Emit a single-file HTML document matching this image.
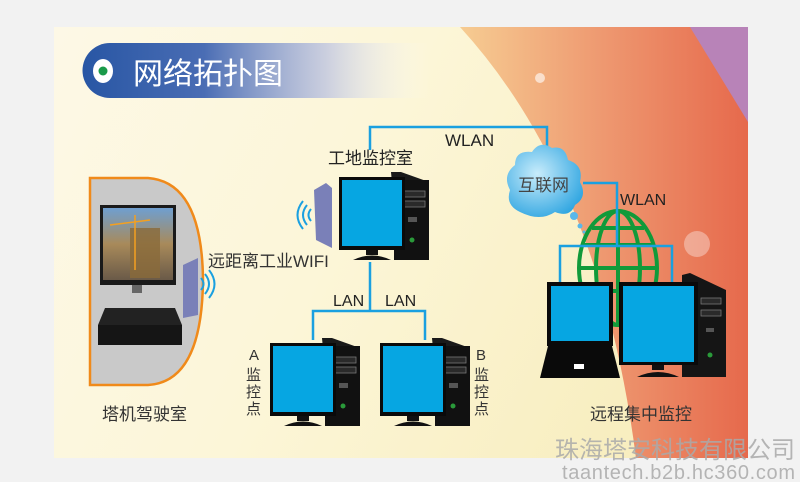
<!DOCTYPE html>
<html><head><meta charset="utf-8"><style>
html,body{margin:0;padding:0;background:#f2f2f2;}
svg{display:block}
text{font-family:"Liberation Sans","Noto Sans CJK SC",sans-serif;}
</style></head><body>
<svg width="800" height="482" viewBox="0 0 800 482" xmlns="http://www.w3.org/2000/svg">
<defs>
<linearGradient id="bg" x1="0" y1="0" x2="1" y2="0.3">
<stop offset="0" stop-color="#fdf8e6"/><stop offset="0.5" stop-color="#fcf6d8"/><stop offset="1" stop-color="#f8eec0"/></linearGradient>
<linearGradient id="or" x1="0" y1="0" x2="1" y2="0">
<stop offset="0" stop-color="#f6cc92"/><stop offset="0.5" stop-color="#ee9870"/><stop offset="1" stop-color="#e6694c"/></linearGradient>
<linearGradient id="ban" x1="0" y1="0" x2="1" y2="0">
<stop offset="0" stop-color="#2856a4"/><stop offset="0.35" stop-color="#4a6db4"/><stop offset="0.7" stop-color="#b5bde0" stop-opacity="0.7"/><stop offset="1" stop-color="#ffffff" stop-opacity="0"/></linearGradient>
<radialGradient id="cl" cx="0.4" cy="0.4" r="0.7"><stop offset="0" stop-color="#c8ecfb"/><stop offset="1" stop-color="#2aa3e0"/></radialGradient>
<linearGradient id="photo" x1="0" y1="0" x2="0" y2="1"><stop offset="0" stop-color="#6f9fd0"/><stop offset="0.5" stop-color="#a88a5a"/><stop offset="1" stop-color="#6a5a48"/></linearGradient>
<g id="pc">
<polygon points="52,-5 62,-5 90,5 90,83 60,83" fill="#1a1a1a"/>
<rect x="55" y="3" width="35" height="80" fill="#111"/>
<rect x="62" y="14" width="24" height="6" fill="#2a2a2a" stroke="#777" stroke-width="0.8"/>
<rect x="62" y="24" width="24" height="6" fill="#2a2a2a" stroke="#777" stroke-width="0.8"/>
<rect x="69" y="40" width="9" height="5" fill="#555"/>
<circle cx="73" cy="63" r="2.5" fill="#2a9a3a"/>
<rect x="0" y="0" width="66" height="73" fill="#0a0a0a"/>
<rect x="3" y="3" width="60" height="66" fill="#06a6e2"/>
<rect x="27" y="73" width="12" height="5" fill="#111"/>
<path d="M14,83 Q33,74 52,83 Z" fill="#111"/>
</g>
</defs>
<rect x="0" y="0" width="800" height="482" fill="#f2f2f2"/>
<rect x="54" y="27" width="694" height="431" fill="url(#bg)"/>
<path d="M460,27 Q600,180 636,458 L748,458 L748,27 Z" fill="url(#or)"/>
<path d="M690,27 L748,27 L748,122 Z" fill="#b883b8"/>
<circle cx="540" cy="78" r="5" fill="#fff" opacity="0.6"/>
<circle cx="697" cy="244" r="13" fill="#fff" opacity="0.35"/>
<path d="M110,43 L430,43 L430,98 L110,98 A27.5,27.5 0 0 1 110,43 Z" fill="url(#ban)"/>
<ellipse cx="103" cy="71" rx="10" ry="12" fill="#fff"/>
<circle cx="103" cy="71" r="4.5" fill="#1a9a4a"/>
<text x="133" y="84" font-size="30" fill="#fff">网络拓扑图</text>
<path d="M90,178 L148,178 Q202,182 203,280 Q202,382 148,385 L90,385 Z" fill="#c9c9c9" stroke="#f08a1a" stroke-width="2.5"/>
<rect x="100" y="205" width="76" height="80" fill="#1a1a1a"/>
<rect x="103" y="208" width="70" height="72" fill="url(#photo)"/>
<rect x="130" y="228" width="30" height="50" fill="#8a6a3a" opacity="0.8"/>
<line x1="110" y1="225" x2="150" y2="220" stroke="#f4a020" stroke-width="1.5"/>
<line x1="135" y1="215" x2="135" y2="270" stroke="#f4a020" stroke-width="1.5"/>
<rect x="132" y="285" width="10" height="8" fill="#666"/>
<polygon points="105,308 175,308 182,325 98,325" fill="#222"/>
<rect x="98" y="325" width="84" height="20" fill="#151515"/>
<polygon points="183,265 198,258 198,315 183,318" fill="#7a80b8"/>
<path d="M201,278 q5,6 0,12 M205,274 q8,10 0,20 M209,270 q11,14 0,28" stroke="#1aa0e0" stroke-width="2" fill="none"/>
<text x="102" y="420" font-size="17" fill="#333">塔机驾驶室</text>
<text x="208" y="267" font-size="17" fill="#333">远距离工业WIFI</text>
<g stroke="#1aa0e0" stroke-width="2.5" fill="none">
<path d="M370,150 V127 H547 V150"/>
<path d="M370,262 V311 M313,340 V311 H425 V340"/>
</g>
<text x="445" y="146" font-size="17" fill="#222">WLAN</text>
<text x="328" y="164" font-size="17" fill="#222">工地监控室</text>
<text x="333" y="306" font-size="16" fill="#222">LAN</text>
<text x="385" y="306" font-size="16" fill="#222">LAN</text>
<text x="620" y="205" font-size="16" fill="#222">WLAN</text>
<polygon points="314,190 326,183 332,188 332,248 316,240" fill="#7a80b8"/>
<path d="M311,209 q-5,6 0,12 M307,205 q-8,10 0,20 M303,201 q-11,14 0,28" stroke="#1aa0e0" stroke-width="2" fill="none"/>
<use href="#pc" x="339" y="177"/>
<use href="#pc" x="270" y="343"/>
<use href="#pc" x="380" y="343"/>
<text x="249" y="360" font-size="15" fill="#333">A</text>
<text x="246" y="380" font-size="15" fill="#333">监</text>
<text x="246" y="397" font-size="15" fill="#333">控</text>
<text x="246" y="414" font-size="15" fill="#333">点</text>
<text x="476" y="360" font-size="15" fill="#333">B</text>
<text x="474" y="380" font-size="15" fill="#333">监</text>
<text x="474" y="397" font-size="15" fill="#333">控</text>
<text x="474" y="414" font-size="15" fill="#333">点</text>
<path d="M520,212 Q505,205 510,190 Q502,175 515,165 Q515,150 532,152 Q540,140 552,148 Q565,145 568,160 Q584,165 580,182 Q588,197 575,205 Q570,218 555,212 Q540,222 520,212 Z" fill="url(#cl)"/>
<circle cx="574" cy="216" r="4" fill="#5ab8ea"/>
<circle cx="580" cy="226" r="2.5" fill="#5ab8ea"/>
<circle cx="584" cy="232" r="1.5" fill="#5ab8ea"/>
<text x="518" y="191" font-size="17" fill="#444">互联网</text>
<g stroke="#119a3a" stroke-width="4" fill="none">
<ellipse cx="618" cy="268" rx="39" ry="57"/>
<ellipse cx="618" cy="268" rx="22" ry="57"/>
<line x1="618" y1="211" x2="618" y2="325"/>
<line x1="583" y1="245" x2="653" y2="245"/>
<line x1="579" y1="268" x2="657" y2="268"/>
<line x1="583" y1="291" x2="653" y2="291"/>
<line x1="592" y1="228" x2="644" y2="228"/>
</g>
<path d="M583,183 H617 V246 M560,285 V246 H672 V285" stroke="#1aa0e0" stroke-width="2.5" fill="none"/>
<rect x="547" y="282" width="66" height="64" fill="#0a0a0a"/>
<rect x="551" y="286" width="58" height="55" fill="#06a6e2"/>
<polygon points="548,346 612,346 620,378 540,378" fill="#0a0a0a"/>
<rect x="574" y="364" width="10" height="5" fill="#fff"/>
<polygon points="682,275 690,273 726,290 726,377 682,377" fill="#151515"/>
<rect x="701" y="298" width="20" height="6" fill="#2a2a2a" stroke="#777" stroke-width="0.8"/>
<rect x="701" y="310" width="20" height="6" fill="#2a2a2a" stroke="#777" stroke-width="0.8"/>
<rect x="706" y="328" width="8" height="4" fill="#555"/>
<circle cx="710" cy="355" r="2.5" fill="#2a9a3a"/>
<rect x="619" y="282" width="79" height="83" fill="#0a0a0a"/>
<rect x="623" y="286" width="71" height="76" fill="#06a6e2"/>
<rect x="652" y="365" width="12" height="5" fill="#111"/>
<path d="M637,377 Q658,367 679,377 Z" fill="#111"/>
<text x="590" y="420" font-size="17" fill="#333">远程集中监控</text>
<text x="555" y="458" font-size="24" fill="#aaa" opacity="0.85">珠海塔安科技有限公司</text>
<text x="562" y="479" font-size="20" fill="#aaa" opacity="0.85" textLength="233">taantech.b2b.hc360.com</text>
</svg>
</body></html>
